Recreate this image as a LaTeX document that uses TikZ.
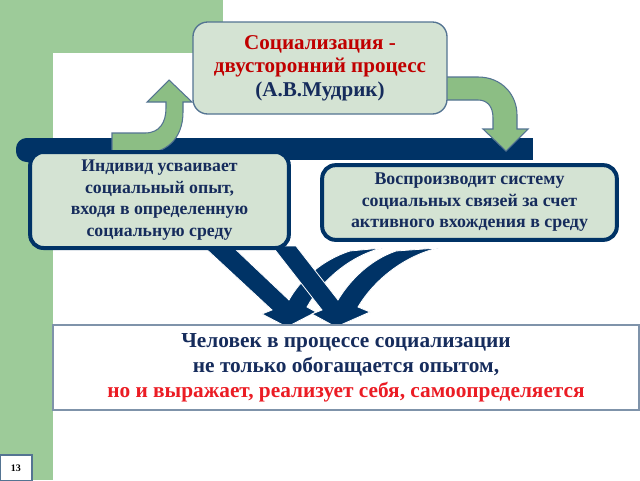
\documentclass[tikz,border=0pt]{standalone}
\usepackage{fontspec}
\setmainfont{Liberation Serif}
\definecolor{bggreen}{RGB}{157,203,153}
\definecolor{boxfill}{RGB}{212,227,211}
\definecolor{navy}{RGB}{0,51,102}
\definecolor{txtnavy}{RGB}{22,44,92}
\definecolor{darkred}{RGB}{192,0,0}
\definecolor{brightred}{RGB}{235,28,36}
\definecolor{slate}{RGB}{84,116,146}
\definecolor{arrgreen}{RGB}{140,190,132}
\definecolor{framec}{RGB}{127,147,170}
\tikzset{
  topbox/.style={draw=slate, line width=1pt, fill=boxfill, rounded corners=11pt, align=center, inner sep=0pt},
  sidebox/.style={draw=navy, line width=3pt, fill=boxfill, rounded corners=10pt, align=center, inner sep=0pt, text=txtnavy},
  mainbox/.style={draw=framec, line width=0.8pt, fill=white, align=center, inner sep=0pt, text=txtnavy},
  greenarrow/.style={fill=arrgreen, draw=slate, line width=0.8pt},
  bluearrow/.style={fill=navy, draw=white, line width=0.6pt}
}
\begin{document}
\begin{tikzpicture}[x=0.75pt,y=-0.75pt]
\useasboundingbox (0,0) rectangle (640,480);
% background
\fill[white] (0,0) rectangle (640,480);
\fill[bggreen] (0,0) rectangle (223,53);
\fill[bggreen] (0,0) rectangle (53,480);
\fill[white, rounded corners=11pt] (53,53) rectangle (700,540);
% navy bar
\fill[navy, rounded corners=8pt] (16,138) rectangle (70,162);
\fill[navy] (40,138) rectangle (533,160);
% green arrows
\filldraw[greenarrow] (112,133) -- (145,133) .. controls (160,133) and (166,122) .. (166,108) -- (166,102) -- (147,102) -- (169,80) -- (192,102) -- (183,102) -- (183,112) .. controls (183,140) and (165,154) .. (140,154) -- (112,154) -- cycle;
\filldraw[greenarrow] (446,77) -- (478,77) .. controls (502,77) and (517,95) .. (517,115) -- (517,129) -- (528,129) -- (506,151) -- (483,129) -- (493,129) -- (493,118) .. controls (493,106) and (487,100) .. (478,100) -- (446,100) -- cycle;
% blue check arrows
\filldraw[bluearrow] (203,246) -- (272,310) -- (262,314) -- (287,327) -- (316,312) -- (307,307) .. controls (322,280) and (350,256) .. (382,248) -- (350,251) .. controls (322,260) and (300,280) .. (289,300) -- (232,246) -- cycle;
\filldraw[bluearrow] (272,246) -- (322,310) -- (312,314) -- (336,327) -- (370,312) -- (358,307) .. controls (374,280) and (404,256) .. (438,248) -- (396,251) .. controls (370,260) and (350,280) .. (338,300) -- (296,246) -- cycle;
% boxes
\node[topbox, minimum width=190.5pt, minimum height=69pt,
      font=\fontsize{15.8}{17.5}\selectfont\bfseries] (top) at (320,68)
  {\textcolor{darkred}{Социализация -}\\ \textcolor{darkred}{двусторонний процесс}\\ \textcolor{txtnavy}{(А.В.Мудрик)}};
\node[sidebox, minimum width=194pt, minimum height=72pt,
      font=\fontsize{13.3}{16.3}\selectfont\bfseries] (lbox) at (159.5,200)
  {Индивид усваивает\\ социальный опыт,\\ входя в определенную\\ социальную среду};
\node[sidebox, minimum width=221pt, minimum height=56pt,
      font=\fontsize{13.4}{16.1}\selectfont\bfseries] (rbox) at (469.5,202.5)
  {Воспроизводит систему\\ социальных связей за счет\\ активного вхождения в среду};
\node[mainbox, minimum width=439.5pt, minimum height=63.75pt,
      font=\fontsize{16}{18.8}\selectfont\bfseries] (bbox) at (346,367.5)
  {Человек в процессе социализации\\ не только обогащается опытом,\\ \textcolor{brightred}{но и выражает, реализует себя, самоопределяется}};
\node[mainbox, draw=slate, minimum width=24pt, minimum height=19.5pt,
      font=\fontsize{7.5}{9}\selectfont\bfseries, text=black] (pnum) at (16,468) {13};
\end{tikzpicture}
\end{document}
